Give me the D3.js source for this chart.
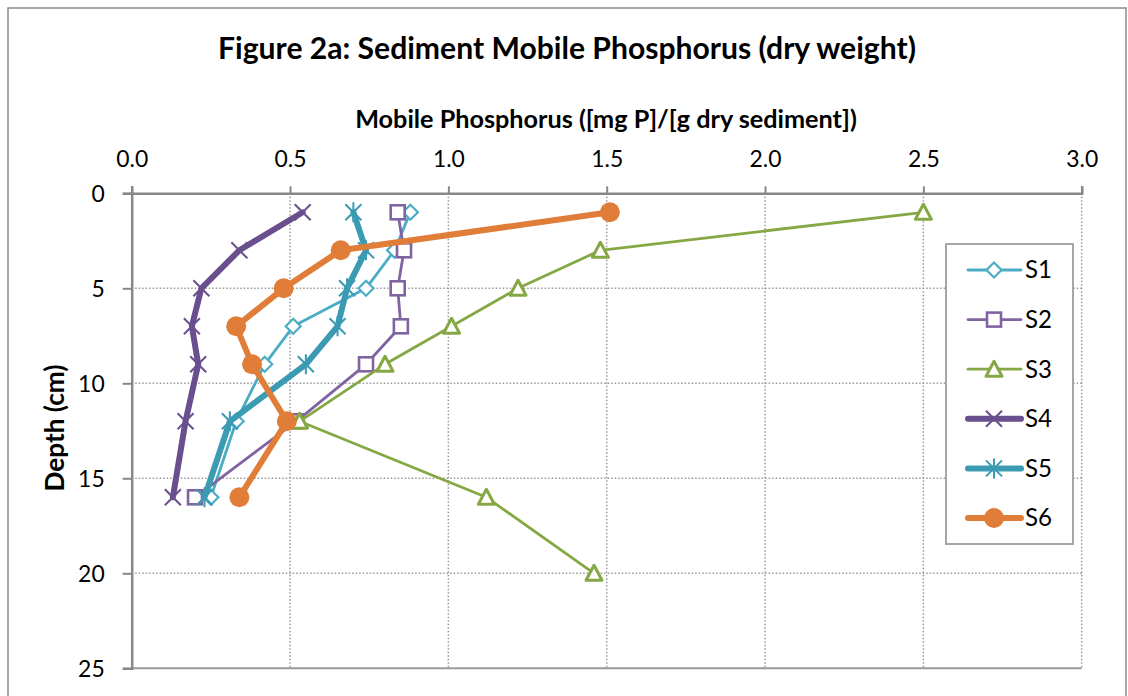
<!DOCTYPE html>
<html>
<head>
  <meta charset="utf-8">
  <title>Sediment Mobile Phosphorus</title>
  <script src="https://cdn.jsdelivr.net/npm/d3@7"></script>
  <style>
    body { margin: 0; background: #ffffff; }
    text { font-family: Lato, "Open Sans", sans-serif; fill: #000; }
    .title { font-size: 25px; font-weight: bold; text-anchor: middle; }
    .axtitle { font-size: 19px; font-weight: bold; text-anchor: middle; }
    .grid line { stroke: #999; stroke-width: 1.5; stroke-dasharray: 1.5,2; }
  </style>
</head>
<body>
<script>
  // Data
  var depths = [1, 3, 5, 7, 9, 12, 16];
  var depthsS3 = [1, 3, 5, 7, 9, 12, 16, 20];
  var s1 = [0.88, 0.83, 0.74, 0.51, 0.42, 0.33, 0.25];
  var s2 = [0.84, 0.86, 0.84, 0.85, 0.74, 0.52, 0.20];
  var s3 = [2.50, 1.48, 1.22, 1.01, 0.80, 0.53, 1.12, 1.46];
  var s4 = [0.54, 0.34, 0.22, 0.19, 0.21, 0.17, 0.13];
  var s5 = [0.70, 0.74, 0.68, 0.65, 0.55, 0.31, 0.23];
  var s6 = [1.51, 0.66, 0.48, 0.33, 0.38, 0.49, 0.34];
  var names = ["S1", "S2", "S3", "S4", "S5", "S6"];
  var xTicks = [0, 0.5, 1.0, 1.5, 2.0, 2.5, 3.0];
  var yTicks = [0, 5, 10, 15, 20, 25];

  var width = 1128, height = 696;
  var svg = d3.select("body").append("svg")
      .attr("width", width)
      .attr("height", height);

  // scale a text's font so it is as wide as in the picture
  function fitText(sel, target) {
    var w = sel.node().getComputedTextLength();
    var fs = parseFloat(window.getComputedStyle(sel.node()).fontSize);
    var size = fs * target / w;
    sel.style("font-size", size + "px");
    return size;
  }

  // chart border
  svg.append("rect")
      .attr("x", 8).attr("y", 8)
      .attr("width", 1118).attr("height", 700)
      .attr("fill", "none")
      .attr("stroke", "#8c8c8c")
      .attr("stroke-width", 1.5);

  var pLeft = 131.7, pRight = 1081.7, pTop = 193.3, pBottom = 668.3;

  var x = d3.scaleLinear().domain([0, 3]).range([pLeft, pRight]);
  var y = d3.scaleLinear().domain([0, 25]).range([pTop, pBottom]);

  // gridlines
  var grid = svg.append("g").attr("class", "grid");
  grid.selectAll(".vg")
      .data(xTicks.slice(1))
      .enter().append("line")
      .attr("x1", d => x(d)).attr("x2", d => x(d))
      .attr("y1", pTop).attr("y2", pBottom);
  grid.selectAll(".hg")
      .data([5, 10, 15, 20])
      .enter().append("line")
      .attr("x1", pLeft).attr("x2", pRight)
      .attr("y1", d => y(d)).attr("y2", d => y(d));

  // bottom edge
  svg.append("line")
      .attr("x1", pLeft).attr("x2", pRight)
      .attr("y1", pBottom).attr("y2", pBottom)
      .attr("stroke", "#9a9a9a").attr("stroke-width", 2);

  // axes
  var xAxis = d3.axisTop(x)
      .tickValues(xTicks)
      .tickFormat(d3.format(".1f"))
      .tickSize(7)
      .tickPadding(19);
  var gx = svg.append("g")
      .attr("transform", "translate(0," + pTop + ")")
      .call(xAxis);

  var yAxis = d3.axisLeft(y)
      .tickValues(yTicks)
      .tickFormat(d3.format("d"))
      .tickSize(9)
      .tickPadding(18);
  var gy = svg.append("g")
      .attr("transform", "translate(" + pLeft + ",0)")
      .call(yAxis);

  [gx, gy].forEach(function(g) {
    g.select(".domain").attr("stroke", "#888").attr("stroke-width", 2.5);
    g.selectAll(".tick line").attr("stroke", "#888").attr("stroke-width", 2);
    g.selectAll(".tick text").attr("fill", "#000").attr("font-family", null);
  });
  gx.selectAll(".tick text").attr("dy", "0em");
  gy.selectAll(".tick text").attr("dy", "0.35em");

  var tickSize = fitText(gx.select(".tick text").style("font-size", "19px"), 32);
  gx.selectAll(".tick text").style("font-size", tickSize + "px");
  gy.selectAll(".tick text").style("font-size", tickSize + "px");

  // titles
  fitText(svg.append("text")
      .attr("class", "title")
      .attr("x", 567).attr("y", 59)
      .text("Figure 2a: Sediment Mobile Phosphorus (dry weight)"), 698);

  fitText(svg.append("text")
      .attr("class", "axtitle")
      .attr("x", 606).attr("y", 128)
      .text("Mobile Phosphorus ([mg P]/[g dry sediment])"), 502);

  fitText(svg.append("text")
      .attr("class", "axtitle")
      .attr("transform", "translate(64,428) rotate(-90)")
      .text("Depth (cm)"), 127);

  // marker shapes
  function marker(sel, type, color) {
    if (type === "diamond") {
      sel.append("path")
          .attr("d", "M0,-7.5L7.5,0L0,7.5L-7.5,0Z")
          .attr("fill", "#fff").attr("stroke", color).attr("stroke-width", 2.2);
    } else if (type === "square") {
      sel.append("rect")
          .attr("x", -7).attr("y", -7).attr("width", 14).attr("height", 14)
          .attr("fill", "#fff").attr("stroke", color).attr("stroke-width", 2.6);
    } else if (type === "triangle") {
      sel.append("path")
          .attr("d", "M0,-8L8,7L-8,7Z")
          .attr("fill", "#fff").attr("stroke", color).attr("stroke-width", 3)
          .attr("stroke-linejoin", "round");
    } else if (type === "x") {
      sel.append("path")
          .attr("d", "M-8,-8L8,8M-8,8L8,-8")
          .attr("stroke", color).attr("stroke-width", 2);
    } else if (type === "star") {
      sel.append("path")
          .attr("d", "M-8,-8L8,8M-8,8L8,-8M0,-10L0,10")
          .attr("stroke", color).attr("stroke-width", 2);
    } else if (type === "circle") {
      sel.append("circle")
          .attr("r", 10).attr("fill", color);
    }
  }

  var series = [
    {name: names[0], vals: s1, dep: depths, color: "#4BACC6", w: 2.8, m: "diamond"},
    {name: names[1], vals: s2, dep: depths, color: "#8064A2", w: 2.8, m: "square"},
    {name: names[2], vals: s3, dep: depthsS3, color: "#85A844", w: 2.8, m: "triangle"},
    {name: names[3], vals: s4, dep: depths, color: "#6A4F8E", w: 6, m: "x"},
    {name: names[4], vals: s5, dep: depths, color: "#3A9BB3", w: 6, m: "star"},
    {name: names[5], vals: s6, dep: depths, color: "#E07E39", w: 6, m: "circle"}
  ];

  var line = d3.line()
      .x(d => x(d[0]))
      .y(d => y(d[1]));

  series.forEach(function(s) {
    var pts = s.vals.map((v, i) => [v, s.dep[i]]);
    var g = svg.append("g");
    g.append("path")
        .attr("d", line(pts))
        .attr("fill", "none")
        .attr("stroke", s.color)
        .attr("stroke-width", s.w)
        .attr("stroke-linejoin", "round")
        .attr("stroke-linecap", "round");
    pts.forEach(function(p) {
      var mg = g.append("g")
          .attr("transform", "translate(" + x(p[0]) + "," + y(p[1]) + ")");
      marker(mg, s.m, s.color);
    });
  });

  // legend
  var legend = svg.append("g").attr("class", "legend");
  legend.append("rect")
      .attr("x", 946).attr("y", 244)
      .attr("width", 127).attr("height", 300)
      .attr("fill", "#fff")
      .attr("stroke", "#a6a6a6").attr("stroke-width", 2);

  var ly = d3.scalePoint().domain(names).range([270, 518]);
  var legSize = tickSize * 1.05;
  series.forEach(function(s) {
    var cy = ly(s.name);
    legend.append("line")
        .attr("x1", 968).attr("x2", 1021)
        .attr("y1", cy).attr("y2", cy)
        .attr("stroke", s.color).attr("stroke-width", s.w)
        .attr("stroke-linecap", "round");
    var mg = legend.append("g").attr("transform", "translate(994," + cy + ")");
    marker(mg, s.m, s.color);
    legend.append("text")
        .attr("x", 1025).attr("y", cy)
        .attr("dy", "0.35em")
        .style("font-size", legSize + "px")
        .text(s.name);
  });
</script>
</body>
</html>
